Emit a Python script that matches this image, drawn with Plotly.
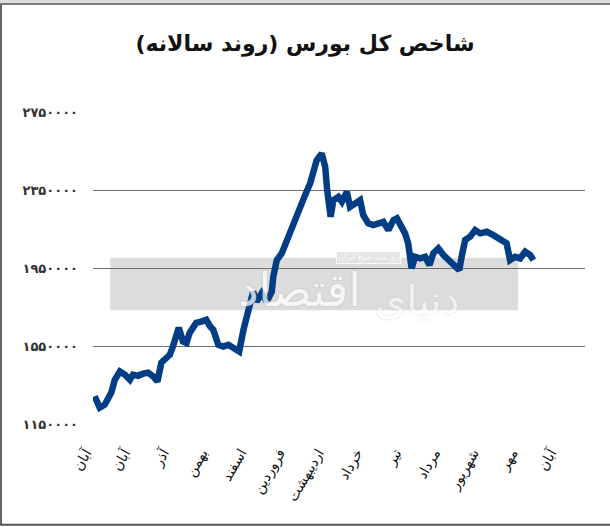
import plotly.graph_objects as go

# month positions on the x axis (one unit per month)
months = ["آبان", "آبان", "آذر", "بهمن", "اسفند", "فروردین", "اردیبهشت",
          "خرداد", "تیر", "مرداد", "شهریور", "مهر", "آبان"]
month_pos = list(range(len(months)))

y_ticks = [1150000, 1550000, 1950000, 2350000, 2750000]
y_labels = ["۱۱۵۰۰۰۰", "۱۵۵۰۰۰۰", "۱۹۵۰۰۰۰", "۲۳۵۰۰۰۰", "۲۷۵۰۰۰۰"]

# index readings (position in months, value)
t = [0.02, 0.15, 0.28, 0.37, 0.45, 0.54, 0.67, 0.80, 0.93, 1.01, 1.14, 1.27, 1.40,
     1.53, 1.64, 1.74, 1.87, 1.96, 2.04, 2.13, 2.19, 2.30, 2.39, 2.47, 2.56, 2.64,
     2.77, 2.90, 3.00, 3.08, 3.21, 3.34, 3.47, 3.60, 3.75, 3.86, 3.99, 4.11, 4.20,
     4.33, 4.46, 4.59, 4.63, 4.72, 4.85, 4.98, 5.11, 5.19, 5.32, 5.45, 5.58, 5.66,
     5.75, 5.88, 5.97, 6.02, 6.11, 6.18, 6.31, 6.40, 6.53, 6.61, 6.74, 6.87, 6.95,
     7.08, 7.21, 7.34, 7.47, 7.60, 7.73, 7.82, 7.94, 8.03, 8.11, 8.20, 8.29, 8.42,
     8.55, 8.66, 8.76, 8.89, 9.02, 9.15, 9.28, 9.43, 9.49, 9.58, 9.71, 9.84, 9.97,
     10.14, 10.31, 10.48, 10.65, 10.74, 10.87, 11.00, 11.13, 11.26, 11.34]
index = [1295000, 1237000, 1252000, 1278000, 1314000, 1380000, 1422000, 1406000,
         1380000, 1406000, 1400000, 1411000, 1416000, 1397000, 1371000, 1467000,
         1493000, 1508000, 1550000, 1601000, 1646000, 1576000, 1569000, 1620000,
         1646000, 1671000, 1678000, 1687000, 1653000, 1636000, 1559000, 1550000,
         1559000, 1542000, 1525000, 1636000, 1738000, 1831000, 1780000, 1823000,
         1780000, 1831000, 1908000, 1993000, 2028000, 2096000, 2147000, 2198000,
         2266000, 2326000, 2386000, 2454000, 2505000, 2539000, 2470000, 2351000,
         2215000, 2300000, 2317000, 2292000, 2343000, 2266000, 2283000, 2300000,
         2224000, 2181000, 2172000, 2181000, 2189000, 2147000, 2198000, 2207000,
         2164000, 2130000, 2079000, 1951000, 2010000, 2002000, 2010000, 1968000,
         2028000, 2053000, 2019000, 1993000, 1968000, 1942000, 2010000, 2096000,
         2113000, 2147000, 2130000, 2138000, 2121000, 2104000, 2079000, 1993000,
         2010000, 2002000, 2036000, 2019000, 1993000]

fa = "DejaVu Sans"

fig = go.Figure()
fig.add_trace(go.Scatter(x=t, y=index, mode="lines",
                         line=dict(color="#003d84", width=6.5),
                         hoverinfo="skip", showlegend=False))

# watermark band
fig.add_shape(type="rect", xref="paper", yref="paper", x0=0.035, x1=0.864,
              y0=0.367, y1=0.534, fillcolor="#dcdcdc", line_width=0, layer="below")
fig.add_annotation(xref="paper", yref="paper", x=0.29, y=0.43, text="اقتصاد",
                   showarrow=False, opacity=0.75,
                   font=dict(family=fa, size=46, color="white",
                             shadow="0px 0px 2px #a8a8a8"))
fig.add_annotation(xref="paper", yref="paper", x=0.75, y=0.40, text="دنیای",
                   showarrow=False, opacity=0.6,
                   font=dict(family=fa, size=40, color="white",
                             shadow="0px 0px 2px #b8b8b8"))
fig.add_annotation(xref="paper", yref="paper", x=0.56, y=0.535, text="روزنامه صبح ایران",
                   showarrow=False, opacity=0.85, bgcolor="#e2e2e2",
                   bordercolor="white", borderwidth=1,
                   font=dict(family=fa, size=8, color="white"))

# page frame
fig.add_shape(type="line", xref="paper", yref="paper", x0=-0.19, x1=1.06,
              y0=1.353, y1=1.353, line=dict(color="#dddddd", width=4))
fig.add_shape(type="line", xref="paper", yref="paper", x0=-0.19, x1=1.06,
              y0=1.345, y1=1.345, line=dict(color="#555", width=1.5))
fig.add_shape(type="line", xref="paper", yref="paper", x0=-0.187, x1=-0.187,
              y0=1.345, y1=-0.319, line=dict(color="#666", width=2))
fig.add_shape(type="line", xref="paper", yref="paper", x0=-0.19, x1=1.06,
              y0=-0.319, y1=-0.319, line=dict(color="#555", width=2))

fig.update_layout(
    width=610, height=527,
    margin=dict(l=93, r=25, t=112, b=102),
    paper_bgcolor="white", plot_bgcolor="white",
    title=dict(text="<b>شاخص کل بورس (روند سالانه)</b>", x=0.5, xanchor="center",
               y=0.917, yanchor="middle",
               font=dict(family=fa, size=22, color="#111")),
)
fig.update_xaxes(range=[-0.023, 12.674], tickvals=month_pos, ticktext=months,
                 tickangle=-60, showgrid=False, zeroline=False, showline=False,
                 ticks="", ticklabelstandoff=16, ticklabelshift=-8,
                 tickfont=dict(family=fa, size=14, color="#111"))
fig.update_yaxes(range=[1148000, 2752000], tickvals=y_ticks,
                 ticktext=["<b>%s</b>" % s for s in y_labels],
                 showgrid=True, gridcolor="#6e6e6e", gridwidth=1.2,
                 zeroline=False, showline=False, ticks="", ticklabelstandoff=14,
                 tickfont=dict(family=fa, size=13, color="#333"))

# page body has a default 8px margin; remove it so the figure sits at the corner
fig.write_html("out.html", config={"displayModeBar": False},
               post_script="document.body.style.margin='0px';")
